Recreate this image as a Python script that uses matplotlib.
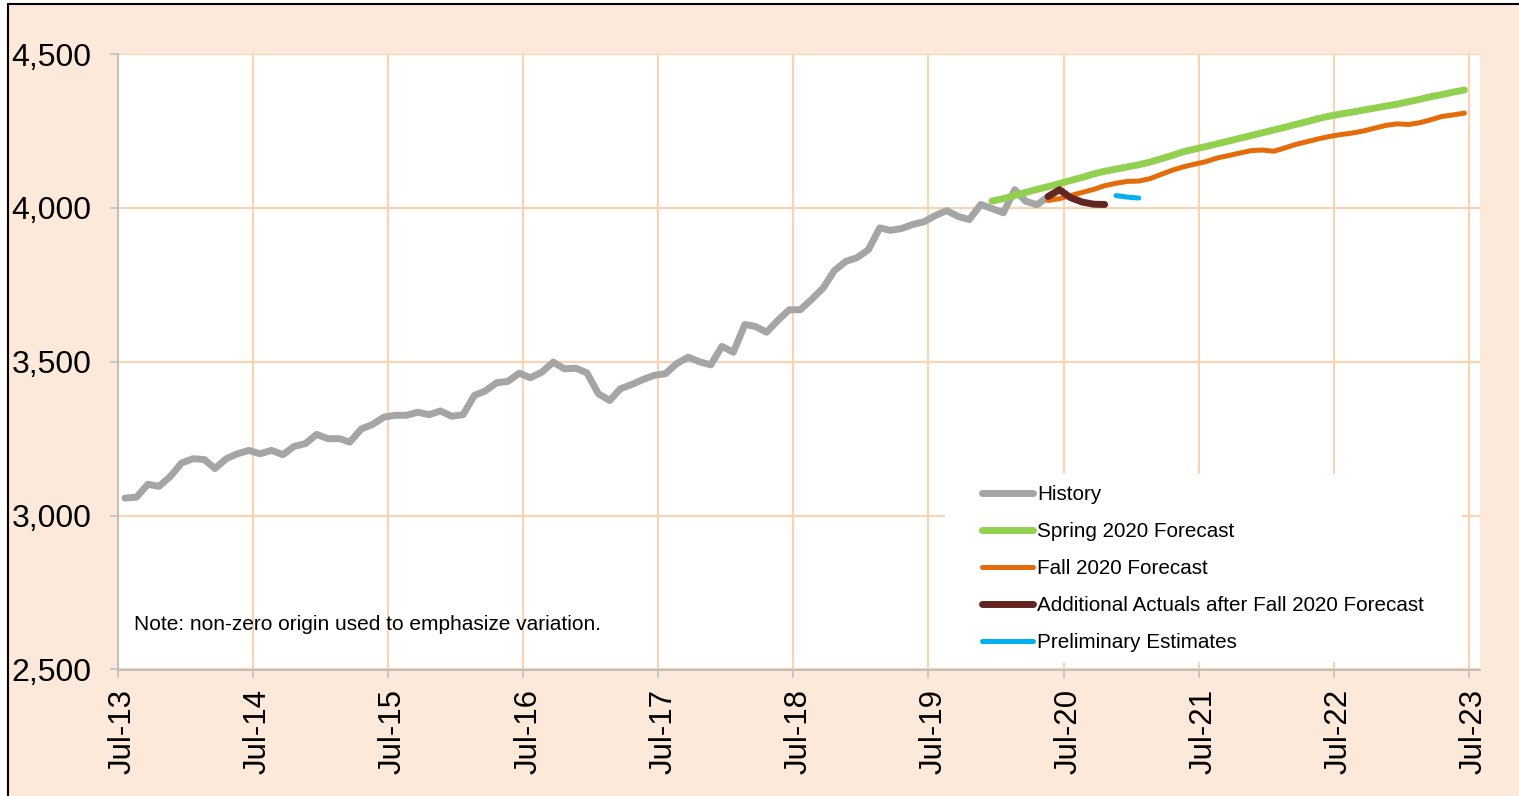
import matplotlib

matplotlib.use("Agg")
import matplotlib.dates as mdates
import matplotlib.pyplot as plt
import pandas as pd
from matplotlib.patches import Rectangle
from matplotlib.ticker import StrMethodFormatter
from matplotlib.transforms import ScaledTranslation

# monthly series, values
history = [
    3057, 3060, 3102, 3095, 3128, 3171, 3185, 3182, 3153, 3185, 3201, 3212,
    3201, 3212, 3198, 3225, 3234, 3264, 3250, 3250, 3239, 3282, 3296, 3320,
    3326, 3326, 3336, 3328, 3340, 3323, 3328, 3391, 3405, 3432, 3436, 3463,
    3448, 3466, 3499, 3477, 3479, 3464, 3396, 3374, 3412, 3426, 3442, 3456,
    3461, 3494, 3515, 3500, 3490, 3550, 3531, 3621, 3615, 3596, 3634, 3669,
    3669, 3703, 3740, 3796, 3826, 3838, 3864, 3935, 3927, 3933, 3946, 3955,
    3975, 3991, 3972, 3962, 4011, 3998, 3984, 4059, 4022, 4010, 4036,
]
spring_2020 = [
    4022, 4030, 4040, 4050, 4060, 4069, 4079, 4089, 4099, 4110, 4119, 4126,
    4133, 4140, 4149, 4159, 4170, 4182, 4191, 4199, 4208, 4217, 4226, 4235,
    4244, 4253, 4262, 4271, 4280, 4290, 4298, 4305, 4311, 4318, 4324, 4331,
    4337, 4345, 4353, 4361, 4368, 4376, 4383,
]
fall_2020 = [
    4024, 4030, 4040, 4050, 4060, 4072, 4080, 4086, 4087, 4095, 4108, 4122,
    4133, 4142, 4150, 4162, 4170, 4178, 4186, 4188, 4184, 4195, 4206, 4215,
    4224, 4232, 4238, 4243, 4250, 4259, 4268, 4273, 4271, 4277, 4286, 4297,
    4302, 4308,
]
additional_actuals = [4037, 4059, 4033, 4019, 4012, 4011]
preliminary = [4040, 4035, 4032]

series = [
    ("History", "2013-07", history, "#A5A5A5", 5.0),
    ("Spring 2020 Forecast", "2019-12", spring_2020, "#92D050", 5.0),
    ("Fall 2020 Forecast", "2020-05", fall_2020, "#E46C0A", 3.6),
    ("Additional Actuals after Fall 2020 Forecast", "2020-05", additional_actuals, "#632523", 5.0),
    ("Preliminary Estimates", "2020-11", preliminary, "#00B0F0", 3.6),
]

y_ticks = [2500, 3000, 3500, 4000, 4500]
tick_years = list(range(2013, 2024))

W, H = 1519, 796
BG = "#FDE9D9"
GRID = "#FBD3AE"
AXIS = "#BFBFBF"

plt.rcParams["font.family"] = ["Liberation Sans", "DejaVu Sans"]

fig = plt.figure(figsize=(W / 100, H / 100), dpi=100)
fig.patch.set_facecolor("white")
fig.patches.append(
    Rectangle((8 / W, -0.01), 1.02, 1 - 4 / H + 0.01, transform=fig.transFigure,
              facecolor=BG, edgecolor="black", linewidth=1.5, zorder=-10)
)

ax = fig.add_axes([118 / W, 1 - 669.5 / H, (1480 - 118) / W, (669.5 - 54) / H])
ax.set_facecolor("white")

for name, start, values, color, lw in series:
    dates = pd.date_range(start, periods=len(values), freq="MS") + pd.Timedelta(days=19)
    ax.plot(dates, values, color=color, linewidth=lw, solid_capstyle="round",
            solid_joinstyle="round", label=name, zorder=4)

ax.set_ylim(2500, 4500)
ax.set_xlim(pd.Timestamp("2013-07-01"), pd.Timestamp("2023-08-01"))
ax.set_yticks(y_ticks)
ax.yaxis.set_major_formatter(StrMethodFormatter("{x:,.0f}"))
ax.set_xticks([pd.Timestamp(f"{y}-07-01") for y in tick_years])
ax.xaxis.set_major_formatter(mdates.DateFormatter("%b-%y"))

ax.grid(True, color=GRID, linewidth=1.5, zorder=1)
ax.set_axisbelow(True)
for side in ("top", "right"):
    ax.spines[side].set_visible(False)
for side in ("left", "bottom"):
    ax.spines[side].set_color(AXIS)
    ax.spines[side].set_linewidth(1.4)

ax.tick_params(axis="y", colors=AXIS, labelcolor="black", length=6, width=1.2,
               labelsize=23, pad=13)
ax.tick_params(axis="x", colors=AXIS, labelcolor="black", length=6, width=1.2,
               labelsize=22.5, pad=8, labelrotation=90)
shift = ScaledTranslation(5 / 100, 0, fig.dpi_scale_trans)
for label in ax.get_xticklabels():
    label.set_transform(label.get_transform() + shift)

# white panel behind the legend hides the grid
ax.add_patch(Rectangle((945 / W, 1 - 662 / H), (1462 - 945) / W, (662 - 474) / H,
                       transform=fig.transFigure, facecolor="white", edgecolor="none",
                       zorder=3))

ax.legend(loc="upper left", bbox_to_anchor=(982 / W, 1 - 485 / H),
          bbox_transform=fig.transFigure, frameon=False, fontsize=14.9,
          borderpad=0, borderaxespad=0, handlelength=2.45, handletextpad=0.2,
          labelspacing=0.87)

fig.text(134 / W, 1 - 625 / H, "Note: non-zero origin used to emphasize variation.",
         fontsize=15, va="center", ha="left")

fig.savefig("out.png", dpi=100, facecolor=fig.get_facecolor())
